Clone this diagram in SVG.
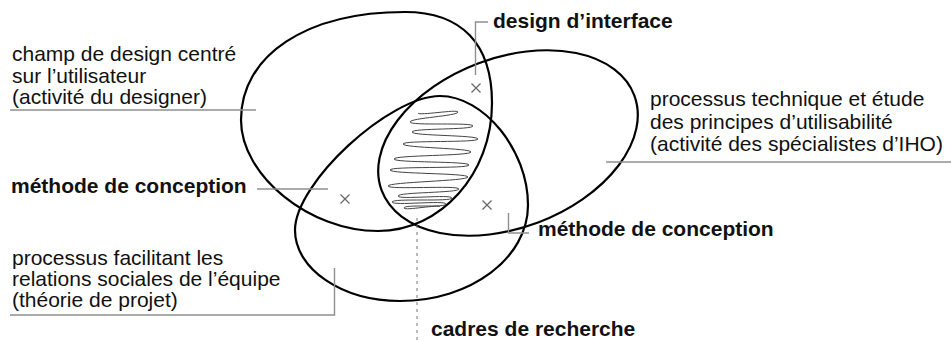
<svg xmlns="http://www.w3.org/2000/svg" width="951" height="341" viewBox="0 0 951 341">
<style>
.set{fill:none;stroke:#000;stroke-width:2.2}
.lead{fill:none;stroke:#8f8f8f;stroke-width:1.4}
.mark{fill:none;stroke:#666;stroke-width:1.2}
.scr{fill:none;stroke:#444;stroke-width:1}
.t{font-family:"Liberation Sans",Arial,sans-serif;font-size:21px;fill:#111}
.b{font-family:"Liberation Sans",Arial,sans-serif;font-size:21px;font-weight:bold;fill:#111}
</style>
<rect width="951" height="341" fill="#fff"/>
<g id="set-designer">
<path class="set" d="M241,120 C241,55.2 306.6,12 405,12 C461.6,12 492,43.9 492,103 C492,173.7 441,231 378,231 C309.5,231 241,175.5 241,120 Z"/>
</g>
<g id="set-ihm">
<ellipse class="set" cx="508" cy="143" rx="135" ry="85" transform="rotate(-20.7 508 143)"/>
</g>
<g id="set-projet">
<path class="set" d="M295,230 C295,183.1 389.2,96 440,96 C484,96 528,150.5 528,205 C528,258 470.7,301 400,301 C342,301 295,269.2 295,230 Z"/>
</g>
<g id="intersection">
<path class="scr" d="M418,113 C418,116 458,109 458,112 C458,116 410,118 410,122 C410,126 473,122 473,126 C473,130 412,128 412,132 C412,136 478,135 478,139 C478,143 403,140 403,144 C403,148 471,148 471,152 C471,156 394,155 394,159 C394,163 469,161 469,165 C469,169 390,166 390,170 C390,174 468,173 468,177 C468,181 388,182 388,186 C388,190 459,185 459,189 C459,193 398,192 398,196 C398,200 452,194 452,198 C452,202 392,198 392,202 C392,206 446,200 446,204 C446,208 404,204 404,208 C404,211 440,204 440,207"/>
</g>
<g id="markers">
<path class="mark" d="M471.5,83.5 L480.5,92.5 M480.5,83.5 L471.5,92.5"/>
<path class="mark" d="M340.5,194.5 L349.5,203.5 M349.5,194.5 L340.5,203.5"/>
<path class="mark" d="M482.5,200.5 L491.5,209.5 M491.5,200.5 L482.5,209.5"/>
</g>
<g id="connectors">
<path class="lead" d="M10,110 H256"/>
<path class="lead" d="M488,22 H475.5 V75"/>
<path class="lead" d="M257,189 H328"/>
<path class="lead" d="M10,315 H334.5 V268"/>
<path class="lead" d="M606,162 H951"/>
<path class="lead" d="M508.5,213 V233 H529"/>
<path d="M417,218 V341" fill="none" stroke="#777" stroke-width="1" stroke-dasharray="3 4"/>
</g>
<g id="label-designer">
<text class="t" x="12" y="61">champ de design centré</text>
<text class="t" x="12" y="82.5">sur l’utilisateur</text>
<text class="t" x="12" y="104">(activité du designer)</text>
</g>
<g id="label-ihm">
<text class="t" x="650" y="106">processus technique et étude</text>
<text class="t" x="650" y="128.5">des principes d’utilisabilité</text>
<text class="t" x="650" y="151">(activité des spécialistes d’IHO)</text>
</g>
<g id="label-projet">
<text class="t" x="12" y="265">processus facilitant les</text>
<text class="t" x="12" y="286">relations sociales de l’équipe</text>
<text class="t" x="12" y="307">(théorie de projet)</text>
</g>
<g id="label-interface"><text class="b" x="493" y="28">design d’interface</text></g>
<g id="label-methode-1"><text class="b" x="11" y="193">méthode de conception</text></g>
<g id="label-methode-2"><text class="b" x="538" y="236">méthode de conception</text></g>
<g id="label-cadres"><text class="b" x="431" y="336">cadres de recherche</text></g>
</svg>
